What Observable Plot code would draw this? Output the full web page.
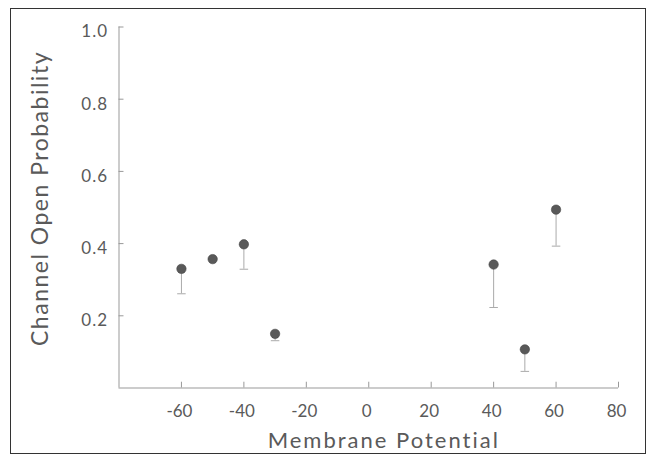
<!DOCTYPE html>
<html>
<head>
<meta charset="utf-8">
<script src="https://cdn.jsdelivr.net/npm/d3@7"></script>
<script src="https://cdn.jsdelivr.net/npm/@observablehq/plot@0.6"></script>
<style>
  html, body { margin: 0; padding: 0; background: #fff; }
  #wrap { position: relative; width: 651px; height: 457px; overflow: hidden; }
  #frame { position: absolute; left: 10px; top: 8px; width: 634px; height: 444px;
           border: 1.5px solid #333; pointer-events: none; }
</style>
</head>
<body>
<div id="wrap"><div id="frame"></div></div>
<script>
// Data
const potential = [-60, -50, -40, -30, 40, 50, 60];
const openProb  = [0.330, 0.357, 0.398, 0.150, 0.342, 0.107, 0.494];
const lowerBar  = [0.261, 0.357, 0.329, 0.131, 0.223, 0.046, 0.393];
const xTicks = [-60, -40, -20, 0, 20, 40, 60, 80];
const yTicks = [0.2, 0.4, 0.6, 0.8, 1.0];
const xTitle = "Membrane Potential";
const yTitle = "Channel Open Probability";

const data = potential.map((v, i) => ({v, p: openProb[i], lo: lowerBar[i]}));
const errData = data.filter(d => d.lo < d.p);

const capSymbol = {
  draw(ctx, size) {
    const w = Math.sqrt(size) * 0.6;
    ctx.moveTo(-w, 0);
    ctx.lineTo(w, 0);
  }
};

const font = "Lato, 'DejaVu Sans', sans-serif";
const textColor = "#5a5a5a";

const chart = Plot.plot({
  width: 651,
  height: 457,
  marginLeft: 118.5,
  marginRight: 33,
  marginTop: 26.5,
  marginBottom: 69.5,
  style: {fontFamily: font, background: "transparent"},
  x: {domain: [-80, 80]},
  y: {domain: [0, 1]},
  marks: [
    // axis lines
    Plot.ruleY([0], {x1: -80, x2: 80, stroke: "#999", strokeWidth: 1}),
    Plot.ruleX([-80], {y1: 0, y2: 1, stroke: "#999", strokeWidth: 1}),
    // inward ticks
    Plot.ruleX(xTicks, {y1: 0, y2: 0.016, stroke: "#999", strokeWidth: 1}),
    Plot.ruleY(yTicks, {x1: -80, x2: -78.4, stroke: "#999", strokeWidth: 1}),
    // tick labels
    Plot.axisX({ticks: xTicks, tickSize: 0, tickPadding: 17, fontSize: 17, fill: textColor, label: null, dx: -2,
                tickFormat: d => String(d)}),
    Plot.axisY({ticks: yTicks, tickSize: 0, tickPadding: 11, fontSize: 17, fill: textColor, label: null, dy: 5,
                tickFormat: d => d.toFixed(1)}),
    // error bars
    Plot.ruleX(errData, {x: "v", y1: "lo", y2: "p", stroke: "#aaa", strokeWidth: 1}),
    Plot.dot(errData, {x: "v", y: "lo", symbol: capSymbol, r: 4, stroke: "#aaa", strokeWidth: 1}),
    // points
    Plot.dot(data, {x: "v", y: "p", r: 4.7, fill: "#595959", stroke: "#444", strokeWidth: 0.6}),
    // axis titles
    Plot.text([xTitle], {frameAnchor: "bottom", lineAnchor: "bottom", dy: 60, dx: 15,
                fontSize: 22, fill: textColor}),
    Plot.text([yTitle], {frameAnchor: "left", textAnchor: "middle", rotate: -90, dx: -78, dy: -9,
                fontSize: 23, fill: textColor})
  ]
});

// widen letter spacing of the titles and tick labels to mimic the original typeface
d3.select(chart).selectAll("text").each(function() {
  const t = this.textContent;
  if (t === xTitle) this.style.letterSpacing = "2px";
  else if (t === yTitle) this.style.letterSpacing = "1.5px";
});
d3.select(chart).selectAll("g[aria-label='y-axis tick label'] text").style("letter-spacing", "1px");

document.getElementById("wrap").insertBefore(chart, document.getElementById("frame"));
</script>
</body>
</html>
